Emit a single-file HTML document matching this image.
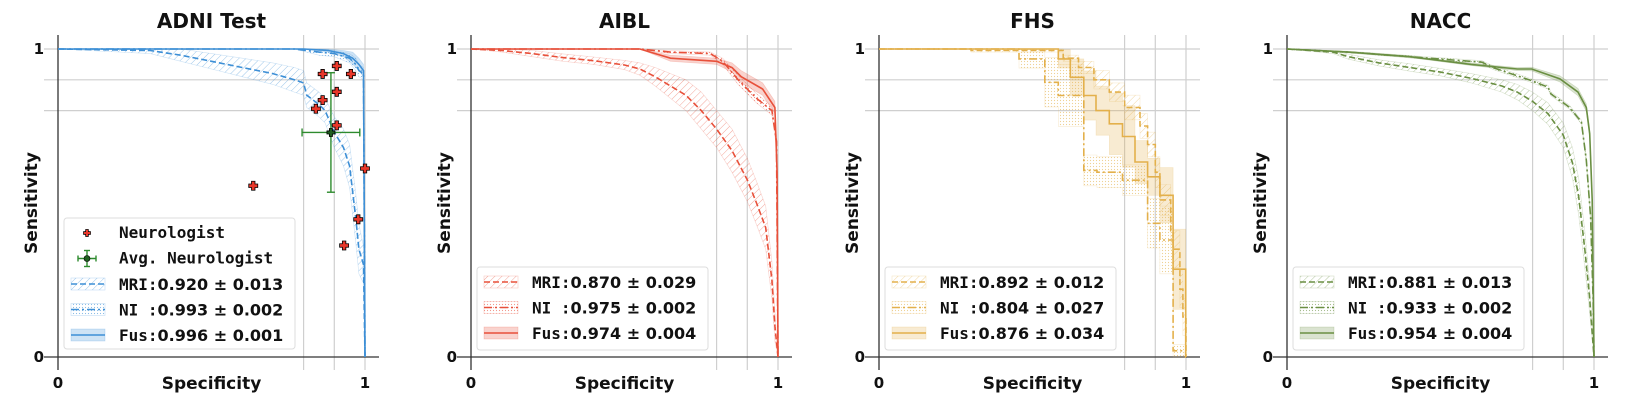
<!DOCTYPE html>
<html><head><meta charset="utf-8">
<style>
html,body{margin:0;padding:0;background:#fff;}
svg{display:block;}
text{font-family:"DejaVu Sans","Liberation Sans",sans-serif;font-weight:bold;fill:#111;}
.mono{font-family:"DejaVu Sans Mono","Liberation Mono",monospace;}
</style></head>
<body>
<svg id="chart" width="1646" height="406" viewBox="0 0 1646 406" xmlns="http://www.w3.org/2000/svg">
<defs>
  <pattern id="hatch-blue" width="5" height="5" patternUnits="userSpaceOnUse" patternTransform="rotate(45)"><line x1="0" y1="0" x2="0" y2="5" stroke="#3d8fd6" stroke-width="1" opacity="0.5"/></pattern>
  <pattern id="hatch-red" width="5" height="5" patternUnits="userSpaceOnUse" patternTransform="rotate(45)"><line x1="0" y1="0" x2="0" y2="5" stroke="#e8503a" stroke-width="1" opacity="0.5"/></pattern>
  <pattern id="hatch-gold" width="5" height="5" patternUnits="userSpaceOnUse" patternTransform="rotate(45)"><line x1="0" y1="0" x2="0" y2="5" stroke="#e3b04b" stroke-width="1" opacity="0.5"/></pattern>
  <pattern id="hatch-green" width="5" height="5" patternUnits="userSpaceOnUse" patternTransform="rotate(45)"><line x1="0" y1="0" x2="0" y2="5" stroke="#6a8f42" stroke-width="1" opacity="0.5"/></pattern>
  <pattern id="dots-blue" width="3" height="3" patternUnits="userSpaceOnUse"><circle cx="1.5" cy="1.5" r="0.6" fill="#3d8fd6" opacity="0.6"/></pattern>
  <pattern id="dots-red" width="3" height="3" patternUnits="userSpaceOnUse"><circle cx="1.5" cy="1.5" r="0.6" fill="#e8503a" opacity="0.6"/></pattern>
  <pattern id="dots-gold" width="3" height="3" patternUnits="userSpaceOnUse"><circle cx="1.5" cy="1.5" r="0.6" fill="#e3b04b" opacity="0.6"/></pattern>
  <pattern id="dots-green" width="3" height="3" patternUnits="userSpaceOnUse"><circle cx="1.5" cy="1.5" r="0.6" fill="#6a8f42" opacity="0.6"/></pattern>
</defs>
</svg>
<script>
// ---------- data ----------
const panelTitles = ["ADNI Test", "AIBL", "FHS", "NACC"];
const seriesNames = ["MRI", "NI ", "Fus"];
const aucLabels = [
  ["0.920 \u00b1 0.013", "0.993 \u00b1 0.002", "0.996 \u00b1 0.001"],
  ["0.870 \u00b1 0.029", "0.975 \u00b1 0.002", "0.974 \u00b1 0.004"],
  ["0.892 \u00b1 0.012", "0.804 \u00b1 0.027", "0.876 \u00b1 0.034"],
  ["0.881 \u00b1 0.013", "0.933 \u00b1 0.002", "0.954 \u00b1 0.004"]
];
const xTicks = [0, 1];
const yTicks = [0, 1];
const gridVals = [0.8, 0.9, 1];

// ADNI
const adniMriSpec = [0,0.3,0.4,0.5,0.6,0.7,0.77,0.8,0.81,0.85,0.87,0.9,0.93,0.95,0.97,0.98,0.995,1];
const adniMriSens = [1,0.995,0.98,0.96,0.94,0.92,0.9,0.89,0.85,0.82,0.8,0.73,0.68,0.62,0.45,0.35,0.3,0];
const adniMriErr  = [0,0.01,0.02,0.025,0.03,0.035,0.04,0.04,0.04,0.04,0.04,0.05,0.06,0.07,0.08,0.08,0.06,0];
const adniNiSpec = [0,0.77,0.85,0.9,0.95,0.97,0.98,0.995,1];
const adniNiSens = [1,1,0.99,0.985,0.97,0.95,0.93,0.92,0];
const adniNiErr  = [0,0,0.01,0.01,0.015,0.02,0.02,0.02,0];
const adniFusSpec = [0,0.8,0.88,0.93,0.96,0.98,0.995,1];
const adniFusSens = [1,1,0.995,0.985,0.97,0.95,0.93,0];
const adniFusErr  = [0,0,0.005,0.01,0.02,0.02,0.02,0];
const neuroSpec = [0.862,0.908,0.954,0.908,0.862,0.840,0.908,1.0,0.636,0.978,0.932];
const neuroSens = [0.919,0.945,0.919,0.861,0.834,0.806,0.752,0.612,0.556,0.447,0.362];
const avgNeuroSpec = 0.889, avgNeuroSens = 0.729, avgNeuroSpecErr = 0.094, avgNeuroSensErr = 0.194;

// AIBL
const aiblMriSpec = [0,0.1,0.2,0.3,0.4,0.5,0.55,0.6,0.65,0.7,0.75,0.8,0.85,0.9,0.93,0.96,0.98,0.99,1];
const aiblMriSens = [1,0.995,0.985,0.972,0.962,0.948,0.935,0.91,0.88,0.85,0.8,0.74,0.67,0.575,0.5,0.42,0.25,0.1,0];
const aiblMriErr  = [0,0.005,0.01,0.012,0.012,0.015,0.02,0.03,0.04,0.05,0.06,0.06,0.07,0.07,0.07,0.07,0.06,0.05,0];
const aiblNiSpec = [0,0.55,0.65,0.78,0.82,0.87,0.93,0.98,0.995,1];
const aiblNiSens = [1,1,0.99,0.985,0.96,0.9,0.84,0.8,0.7,0];
const aiblNiErr  = [0,0,0.005,0.005,0.01,0.015,0.015,0.015,0.02,0];
const aiblFusSpec = [0,0.55,0.65,0.8,0.85,0.88,0.95,0.99,0.997,1];
const aiblFusSens = [1,1,0.97,0.96,0.94,0.91,0.87,0.81,0.6,0];
const aiblFusErr  = [0,0,0.01,0.01,0.015,0.02,0.02,0.02,0.03,0];

// FHS (step curves: spec where drop occurs, sens after drop)
const fhsMriSpec = [0,0.3,0.6,0.65,0.7,0.75,0.8,0.85,0.875,0.9,0.915,0.95,0.958,0.98,0.99,1];
const fhsMriSens = [1,0.995,0.97,0.94,0.9,0.86,0.81,0.75,0.69,0.6,0.51,0.41,0.35,0.22,0.13,0];
const fhsMriErr  = [0,0.005,0.01,0.02,0.03,0.03,0.04,0.04,0.04,0.05,0.05,0.06,0.06,0.06,0.06,0];
const fhsNiSpec = [0.456,0.54,0.584,0.667,0.71,0.793,0.875,0.915,0.958,0.999];
const fhsNiSens = [0.968,0.892,0.849,0.606,0.6,0.574,0.434,0.38,0.02,0];
const fhsNiErr  = [0.03,0.08,0.1,0.05,0.05,0.05,0.08,0.11,0.02,0];
const fhsFusSpec = [0.584,0.623,0.667,0.707,0.75,0.793,0.834,0.875,0.915,0.958,0.999];
const fhsFusSens = [0.968,0.908,0.849,0.80,0.757,0.716,0.633,0.585,0.525,0.285,0];
const fhsFusErr  = [0.03,0.06,0.08,0.08,0.1,0.1,0.07,0.06,0.09,0.13,0];

// NACC
const naccMriSpec = [0,0.15,0.2,0.3,0.4,0.5,0.6,0.7,0.75,0.8,0.85,0.9,0.93,0.95,0.97,0.985,1];
const naccMriSens = [1,0.99,0.975,0.955,0.94,0.925,0.905,0.88,0.86,0.83,0.79,0.72,0.63,0.52,0.35,0.2,0];
const naccMriErr  = [0,0.005,0.008,0.01,0.012,0.012,0.015,0.02,0.025,0.03,0.035,0.04,0.05,0.06,0.06,0.05,0];
const naccNiSpec = [0,0.2,0.4,0.635,0.67,0.797,0.85,0.86,0.92,0.959,0.975,0.989,0.997,1];
const naccNiSens = [1,0.99,0.975,0.957,0.94,0.897,0.876,0.854,0.811,0.763,0.64,0.455,0.19,0];
const naccNiErr  = [0,0.003,0.004,0.005,0.006,0.006,0.006,0.006,0.006,0.006,0.01,0.015,0.02,0];
const naccFusSpec = [0,0.2,0.4,0.6,0.75,0.797,0.889,0.948,0.975,0.986,0.994,1];
const naccFusSens = [1,0.99,0.975,0.95,0.935,0.935,0.903,0.86,0.81,0.725,0.51,0];
const naccFusErr  = [0,0.002,0.003,0.004,0.005,0.006,0.01,0.012,0.012,0.015,0.02,0];

const panelSeries = [
  [[adniMriSpec,adniMriSens,adniMriErr,false],[adniNiSpec,adniNiSens,adniNiErr,false],[adniFusSpec,adniFusSens,adniFusErr,false]],
  [[aiblMriSpec,aiblMriSens,aiblMriErr,false],[aiblNiSpec,aiblNiSens,aiblNiErr,false],[aiblFusSpec,aiblFusSens,aiblFusErr,false]],
  [[fhsMriSpec,fhsMriSens,fhsMriErr,true],[fhsNiSpec,fhsNiSens,fhsNiErr,true],[fhsFusSpec,fhsFusSens,fhsFusErr,true]],
  [[naccMriSpec,naccMriSens,naccMriErr,false],[naccNiSpec,naccNiSens,naccNiErr,false],[naccFusSpec,naccFusSens,naccFusErr,false]]
];
const colorKeys = ["blue","red","gold","green"];
const colors = {blue:"#3d8fd6", red:"#e8503a", gold:"#e3b04b", green:"#6a8f42"};

// ---------- rendering ----------
const NS = "http://www.w3.org/2000/svg";
const svg = document.getElementById("chart");
const panelX0 = [58, 471, 879, 1287];
const PW = 307, Y1 = 49, Y0 = 357;
function mk(tag, attrs, parent){ const e=document.createElementNS(NS,tag); for(const k in attrs) e.setAttribute(k,attrs[k]); (parent||svg).appendChild(e); return e; }
const dashes = ["6,3","8,3,2,3",""];

panelTitles.forEach((title, p) => {
  const x0 = panelX0[p];
  const sx = v => x0 + v * PW;
  const sy = v => Y0 - v * (Y0 - Y1);
  const col = colors[colorKeys[p]];
  const g = mk("g", {});
  
  

  gridVals.forEach(v => {
    const gl = mk("line", {x1:x0-14, x2:x0+PW+14, y1:sy(v), y2:sy(v), stroke:"#cfcfcf", "stroke-width":1.2}, g);
    
    
    const gv = mk("line", {x1:sx(v), x2:sx(v), y1:35, y2:370, stroke:"#cfcfcf", "stroke-width":1.2}, g);
    
    
  });
  const ya = mk("line", {x1:x0, x2:x0, y1:35, y2:370, stroke:"#333", "stroke-width":1.3}, g);
  
  
  const xa = mk("line", {x1:x0-14, x2:x0+PW+14, y1:Y0, y2:Y0, stroke:"#333", "stroke-width":1.3}, g);
  
  

  panelSeries[p].forEach((s, i) => {
    const [xs, ys, es, step] = s;
    let top=[], bot=[], line=[];
    if (step) {
      let cy=1, ct=1, cb=1;
      line.push([0,1]); top.push([0,1]); bot.push([0,1]);
      for (let k=0;k<xs.length;k++){
        const t=Math.min(1,ys[k]+es[k]), b=Math.max(0,ys[k]-es[k]);
        line.push([xs[k],cy]); line.push([xs[k],ys[k]]); cy=ys[k];
        top.push([xs[k],ct]); top.push([xs[k],t]); ct=t;
        bot.push([xs[k],cb]); bot.push([xs[k],b]); cb=b;
      }
      line.push([1,cy]); line.push([1,0]);
      top.push([1,ct]); bot.push([1,cb]);
    } else {
      for (let k=0;k<xs.length;k++){
        line.push([xs[k],ys[k]]);
        top.push([xs[k],Math.min(1,ys[k]+es[k])]);
        bot.push([xs[k],Math.max(0,ys[k]-es[k])]);
      }
    }
    const poly = top.concat(bot.slice().reverse()).map(q=>sx(q[0]).toFixed(1)+","+sy(q[1]).toFixed(1)).join(" ");
    const fill = i===0 ? "url(#hatch-"+colorKeys[p]+")" : i===1 ? "url(#dots-"+colorKeys[p]+")" : col;
    const band = mk("polygon", {points:poly, fill:fill, "fill-opacity": i===2?0.25:1, stroke:col, "stroke-opacity":0.25, "stroke-width":0.6}, g);
    
    
    const pl = mk("polyline", {points: line.map(q=>sx(q[0]).toFixed(1)+","+sy(q[1]).toFixed(1)).join(" "), fill:"none", stroke:col, "stroke-width":1.6}, g);
    if (dashes[i]) pl.setAttribute("stroke-dasharray", dashes[i]);
    
    
  });

  if (p===0) {
    const plus = (cx,cy,r,fillc,name) => {
      const a=r/2.6;
      const d=`M${cx-a},${cy-r}H${cx+a}V${cy-a}H${cx+r}V${cy+a}H${cx+a}V${cy+r}H${cx-a}V${cy+a}H${cx-r}V${cy-a}H${cx-a}Z`;
      const m = mk("path", {d:d, fill:fillc, stroke:"#000", "stroke-width":0.8}, g);
      
      
    };
    const eg = mk("g", {stroke:"#2e8b2e", "stroke-width":1.4}, g);
    
    
    const ax=sx(avgNeuroSpec), ay=sy(avgNeuroSens);
    const xl=sx(avgNeuroSpec-avgNeuroSpecErr), xr=sx(avgNeuroSpec+avgNeuroSpecErr);
    const yt=sy(avgNeuroSens+avgNeuroSensErr), yb=sy(avgNeuroSens-avgNeuroSensErr);
    mk("line",{x1:xl,x2:xr,y1:ay,y2:ay},eg); mk("line",{x1:xl,x2:xl,y1:ay-4,y2:ay+4},eg); mk("line",{x1:xr,x2:xr,y1:ay-4,y2:ay+4},eg);
    mk("line",{x1:ax,x2:ax,y1:yt,y2:yb},eg); mk("line",{x1:ax-4,x2:ax+4,y1:yt,y2:yt},eg); mk("line",{x1:ax-4,x2:ax+4,y1:yb,y2:yb},eg);
    neuroSpec.forEach((v,k)=> plus(sx(v), sy(neuroSens[k]), 4.5, "#e8372a", "neurologist-point"));
    plus(ax, ay, 4, "#1f5f1f", "avg-neurologist-point");
  }

  xTicks.forEach(v => {
    const t = mk("text", {x:sx(v), y:388, "text-anchor":"middle", "font-size":15}, g);
    t.textContent = String(v);
    
    
  });
  yTicks.forEach(v => {
    const t = mk("text", {x:x0-14, y:sy(v)+5, "text-anchor":"end", "font-size":15}, g);
    t.textContent = String(v);
    
    
  });
  const tt = mk("text", {x:x0+PW/2, y:28, "text-anchor":"middle", "font-size":20}, g);
  tt.textContent = title;
  
  
  const xl = mk("text", {x:x0+PW/2, y:389, "text-anchor":"middle", "font-size":17}, g);
  xl.textContent = "Specificity";
  
  
  const yl = mk("text", {x:0, y:0, "text-anchor":"middle", "font-size":17, transform:`translate(${x0-21},${203}) rotate(-90)`}, g);
  yl.textContent = "Sensitivity";
  
  

  const lx = x0+6;
  const ltop = p===0 ? 218 : 267, lh = p===0 ? 131 : 83;
  const lg = mk("g", {}, g);
  
  
  mk("rect", {x:lx, y:ltop, width:231, height:lh, rx:3, fill:"#fff", "fill-opacity":0.85, stroke:"#ddd"}, lg);
  let ry = ltop + 15;
  if (p===0) {
    const e1 = mk("g", {}, lg);
    
    
    const r=3.5,a=r/2.6,cx=lx+23,cy=ry;
    mk("path",{d:`M${cx-a},${cy-r}H${cx+a}V${cy-a}H${cx+r}V${cy+a}H${cx+a}V${cy+r}H${cx-a}V${cy+a}H${cx-r}V${cy-a}H${cx-a}Z`, fill:"#e8372a", stroke:"#000","stroke-width":0.7}, e1);
    const t1 = mk("text",{x:lx+55,y:ry+5,"font-size":16,class:"mono"},e1); t1.textContent="Neurologist";
    ry += 25.5;
    const e2 = mk("g", {}, lg);
    
    
    const eg2 = mk("g",{stroke:"#2e8b2e","stroke-width":1.4},e2);
    mk("line",{x1:cx-9,x2:cx+9,y1:ry,y2:ry},eg2); mk("line",{x1:cx,x2:cx,y1:ry-8,y2:ry+8},eg2);
    mk("line",{x1:cx-9,x2:cx-9,y1:ry-3,y2:ry+3},eg2); mk("line",{x1:cx+9,x2:cx+9,y1:ry-3,y2:ry+3},eg2);
    mk("line",{x1:cx-3,x2:cx+3,y1:ry-8,y2:ry-8},eg2); mk("line",{x1:cx-3,x2:cx+3,y1:ry+8,y2:ry+8},eg2);
    mk("circle",{cx:cx,cy:ry,r:3,fill:"#1f5f1f",stroke:"#000","stroke-width":0.6},e2);
    const t2 = mk("text",{x:lx+55,y:ry+5,"font-size":16,class:"mono"},e2); t2.textContent="Avg. Neurologist";
    ry += 25.5;
  }
  for (let i=0;i<3;i++){
    const e = mk("g", {}, lg);
    
    
    const fill = i===0 ? "url(#hatch-"+colorKeys[p]+")" : i===1 ? "url(#dots-"+colorKeys[p]+")" : col;
    mk("rect",{x:lx+7,y:ry-6,width:34,height:12,fill:fill,"fill-opacity":i===2?0.25:1,stroke:col,"stroke-opacity":0.3,"stroke-width":0.6},e);
    const hl = mk("line",{x1:lx+7,x2:lx+41,y1:ry,y2:ry,stroke:col,"stroke-width":1.6},e);
    if (dashes[i]) hl.setAttribute("stroke-dasharray", dashes[i]);
    const t = mk("text",{x:lx+55,y:ry+6,"font-size":16},e);
    const ts = mk("tspan",{class:"mono"},t); ts.textContent = seriesNames[i].replace(" ","\u00a0")+":";
    const tv = mk("tspan",{},t); tv.textContent = aucLabels[p][i];
    ry += 25.5;
  }
});
</script>
</body></html>
